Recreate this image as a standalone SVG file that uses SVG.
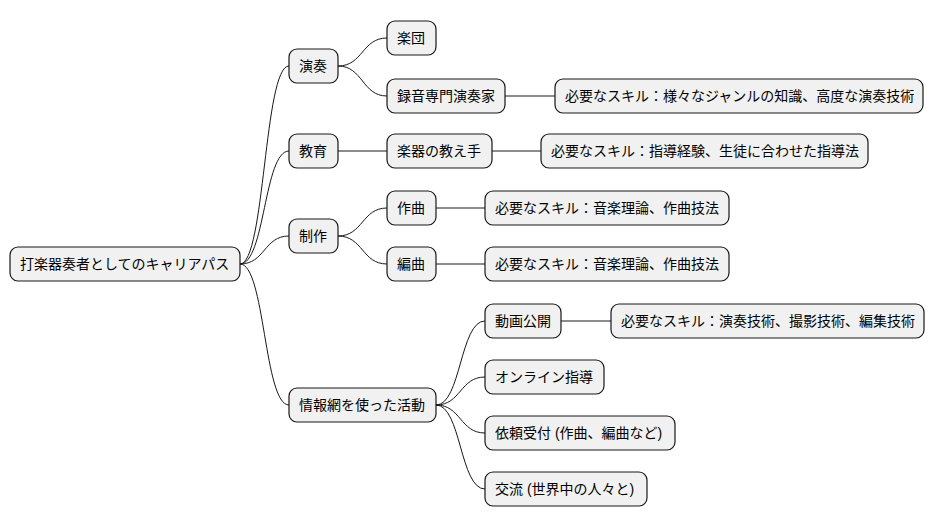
<svg xmlns="http://www.w3.org/2000/svg" width="936" height="527" viewBox="0 0 936 527">
<style>
.n rect{fill:#f1f1f1;stroke:#181818;stroke-width:1.2}
.n text{font-family:"Liberation Sans","Noto Sans CJK JP",sans-serif;font-size:14px;fill:#000;dominant-baseline:central}
#c path{fill:none;stroke:#181818;stroke-width:1}
</style>
<rect width="936" height="527" fill="#fff"/>
<g id="c">
<path d="M240,264 C265,264 264,66 289,66"/>
<path d="M240,264 C265,264 264,151 289,151"/>
<path d="M240,264 C265,264 264,236 289,236"/>
<path d="M240,264 C265,264 264,405 289,405"/>
<path d="M338,66 C363,66 362,38 387,38"/>
<path d="M338,66 C363,66 362,96 387,96"/>
<path d="M505,96 L555,96"/>
<path d="M338,151 L387,151"/>
<path d="M492,151 L541,151"/>
<path d="M338,236 C363,236 362,208 387,208"/>
<path d="M338,236 C363,236 362,264 387,264"/>
<path d="M436,208 L485,208"/>
<path d="M436,264 L485,264"/>
<path d="M436,405 C461,405 460,321 485,321"/>
<path d="M436,405 C461,405 460,377 485,377"/>
<path d="M436,405 C461,405 460,433 485,433"/>
<path d="M436,405 C461,405 460,489 485,489"/>
<path d="M561,321 L611,321"/>
</g>
<g id="root" class="n"><rect x="10" y="247" width="230" height="34" rx="8"/><text x="20" y="264">打楽器奏者としてのキャリアパス</text></g>
<g id="ensou" class="n"><rect x="289" y="49" width="49" height="34" rx="8"/><text x="299" y="66">演奏</text></g>
<g id="gakudan" class="n"><rect x="387" y="21" width="49" height="34" rx="8"/><text x="397" y="38">楽団</text></g>
<g id="rokuon" class="n"><rect x="387" y="79" width="118" height="34" rx="8"/><text x="397" y="96">録音専門演奏家</text></g>
<g id="skill1" class="n"><rect x="555" y="79" width="368" height="34" rx="8"/><text x="565" y="96">必要なスキル：様々なジャンルの知識、高度な演奏技術</text></g>
<g id="kyouiku" class="n"><rect x="289" y="134" width="49" height="34" rx="8"/><text x="299" y="151">教育</text></g>
<g id="oshie" class="n"><rect x="387" y="134" width="105" height="34" rx="8"/><text x="397" y="151">楽器の教え手</text></g>
<g id="skill2" class="n"><rect x="541" y="134" width="327" height="34" rx="8"/><text x="551" y="151">必要なスキル：指導経験、生徒に合わせた指導法</text></g>
<g id="seisaku" class="n"><rect x="289" y="219" width="49" height="34" rx="8"/><text x="299" y="236">制作</text></g>
<g id="sakkyoku" class="n"><rect x="387" y="191" width="49" height="34" rx="8"/><text x="397" y="208">作曲</text></g>
<g id="skill3" class="n"><rect x="485" y="191" width="244" height="34" rx="8"/><text x="495" y="208">必要なスキル：音楽理論、作曲技法</text></g>
<g id="henkyoku" class="n"><rect x="387" y="247" width="49" height="34" rx="8"/><text x="397" y="264">編曲</text></g>
<g id="skill4" class="n"><rect x="485" y="247" width="244" height="34" rx="8"/><text x="495" y="264">必要なスキル：音楽理論、作曲技法</text></g>
<g id="jouhou" class="n"><rect x="289" y="388" width="147" height="34" rx="8"/><text x="299" y="405">情報網を使った活動</text></g>
<g id="douga" class="n"><rect x="485" y="304" width="76" height="34" rx="8"/><text x="495" y="321">動画公開</text></g>
<g id="skill5" class="n"><rect x="611" y="304" width="313" height="34" rx="8"/><text x="621" y="321">必要なスキル：演奏技術、撮影技術、編集技術</text></g>
<g id="online" class="n"><rect x="485" y="360" width="119" height="34" rx="8"/><text x="495" y="377">オンライン指導</text></g>
<g id="irai" class="n"><rect x="485" y="416" width="190" height="34" rx="8"/><text x="495" y="433">依頼受付 (作曲、編曲など)</text></g>
<g id="kouryu" class="n"><rect x="485" y="472" width="162" height="34" rx="8"/><text x="495" y="489">交流 (世界中の人々と)</text></g>
</svg>
